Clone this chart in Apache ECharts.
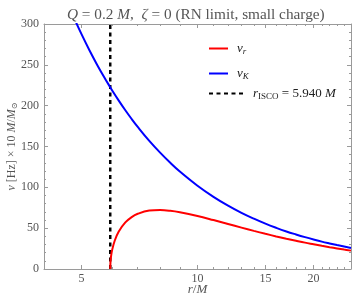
<!DOCTYPE html>
<html>
<head>
<meta charset="utf-8">
<script src="https://cdn.jsdelivr.net/npm/echarts@6/dist/echarts.min.js"></script>
<style>html,body{margin:0;padding:0;background:#fff}#c{width:353px;height:305px}</style>
</head>
<body>
<div id="c"></div>
<script>
// Keplerian frequency nu_K (radius r/M, value in Hz x 10 M/Msun)
var rK  = [4.8, 5, 5.25, 5.5, 5.75, 5.94, 6, 6.25, 6.5, 6.75, 7, 7.5, 8, 8.5, 9, 10, 11, 12, 13, 14, 15, 16, 17, 18, 19, 20, 21, 22, 23, 24, 25];
var nuK = [306.0, 287.9, 267.6, 249.6, 233.6, 222.5, 219.1, 206.2, 194.4, 183.7, 174.0, 156.9, 142.5, 130.1, 119.4, 102.0, 88.4, 77.6, 68.8, 61.6, 55.5, 50.4, 46.0, 42.3, 39.0, 36.1, 33.5, 31.3, 29.3, 27.5, 25.8];
// Radial epicyclic frequency nu_r
var rR  = [5.94, 5.95, 5.97, 6, 6.1, 6.25, 6.5, 6.75, 7, 7.5, 8, 8.5, 9, 10, 11, 12, 13, 14, 15, 16, 17, 18, 19, 20, 21, 22, 23, 24, 25];
var nuR = [0, 9.3, 15.7, 22.0, 34.6, 45.9, 57.0, 63.6, 67.6, 71.5, 72.2, 71.3, 69.5, 64.9, 59.9, 55.1, 50.7, 46.7, 43.1, 39.9, 37.1, 34.6, 32.3, 30.3, 28.4, 26.7, 25.2, 23.8, 22.5];
// ISCO radius
var rISCO = 5.94;
var iscoY = [0, 300];
// tick positions
var xMajor = [5, 10, 15, 20];
var xMinor = [6, 7, 8, 9, 11, 12, 13, 14, 16, 17, 18, 19, 21, 22, 23, 24];

function pairs(xs, ys) { return xs.map(function (x, i) { return [x, ys[i]]; }); }

var FONT = '"Liberation Serif", "DejaVu Serif", serif';
var GRAY = '#555';
var AX = '#9a9a9a';
var rich = {
  i: { fontStyle: 'italic', fontFamily: FONT, fontSize: 13, color: '#222', lineHeight: 16 },
  n: { fontFamily: FONT, fontSize: 13, color: '#222', lineHeight: 16 },
  s: { fontFamily: FONT, fontSize: 9, color: '#222', verticalAlign: 'bottom', lineHeight: 11 },
  si: { fontFamily: FONT, fontSize: 9, fontStyle: 'italic', color: '#222', verticalAlign: 'bottom', lineHeight: 11 }
};

function xAxisDef(pos, vals, len, labels, line) {
  return {
    type: 'log', logBase: 10, min: 4, max: 25, position: pos, gridIndex: 0,
    axisLine: { show: line, lineStyle: { color: AX, width: 1 } },
    axisTick: { show: true, inside: true, length: len, customValues: vals, lineStyle: { color: AX } },
    axisLabel: labels ? { show: true, customValues: vals, margin: 4, color: GRAY, fontFamily: FONT, fontSize: 12 } : { show: false },
    splitLine: { show: false }, minorTick: { show: false }
  };
}

var chart = echarts.init(document.getElementById('c'), null, { renderer: 'canvas' });
chart.setOption({
  animation: false,
  backgroundColor: '#fff',
  title: {
    text: '{i|Q} = 0.2 {i|M},  {i|ζ} = 0 (RN limit, small charge)',
    left: 62, top: 2,
    textStyle: {
      fontFamily: FONT, fontSize: 15.3, fontWeight: 'normal', color: GRAY,
      rich: { i: { fontFamily: FONT, fontSize: 15.3, fontStyle: 'italic', color: GRAY } }
    }
  },
  grid: { left: 44, right: 2, top: 24, bottom: 36, containLabel: false, outerBoundsMode: 'none' },
  legend: [
    { data: ['nu_r'], left: 203, top: 37, itemWidth: 19 },
    { data: ['nu_K'], left: 203, top: 62, itemWidth: 19 },
    { data: ['isco'], left: 203, top: 82, itemWidth: 35 }
  ].map(function (l) {
    return Object.assign(l, {
      orient: 'vertical', itemHeight: 10, itemGap: 0,
      itemStyle: { opacity: 0 },
      formatter: function (name) {
        if (name === 'nu_r') return '{i|ν}{si|r}';
        if (name === 'nu_K') return '{i|ν}{si|K}';
        return '{i|r}{s|ISCO}{n| = 5.940 }{i|M}';
      },
      textStyle: { rich: rich, padding: [0, 0, 0, 4] }
    });
  }),
  xAxis: [
    Object.assign(xAxisDef('bottom', xMajor, 4, true, true), {
      name: '{i|r}{n|/}{i|M}', nameLocation: 'middle', nameGap: 14, nameMoveOverlap: false,
      nameTextStyle: { rich: {
        i: { fontFamily: FONT, fontSize: 13, fontStyle: 'italic', color: GRAY },
        n: { fontFamily: FONT, fontSize: 13, color: GRAY } } }
    }),
    xAxisDef('bottom', xMinor, 2, false, false),
    xAxisDef('top', xMajor, 4, false, true),
    xAxisDef('top', xMinor, 2, false, false)
  ],
  yAxis: [
    {
      type: 'value', min: 0, max: 300, interval: 50, position: 'left',
      axisLine: { show: true, lineStyle: { color: AX } },
      axisTick: { show: true, inside: true, length: 4, lineStyle: { color: AX } },
      minorTick: { show: true, splitNumber: 5, length: 2, lineStyle: { color: AX } },
      axisLabel: { margin: 5, color: GRAY, fontFamily: FONT, fontSize: 12 },
      splitLine: { show: false },
      name: '{i|ν} [Hz] × 10 {i|M}/{i|M}{s|⊙}', nameLocation: 'middle', nameGap: 25, nameRotate: 90,
      nameMoveOverlap: false,
      nameTextStyle: { rich: {
        i: { fontFamily: FONT, fontSize: 12, fontStyle: 'italic', color: GRAY, lineHeight: 14 },
        s: { fontFamily: FONT, fontSize: 8, color: GRAY, verticalAlign: 'bottom', lineHeight: 10 } },
        fontFamily: FONT, fontSize: 12, color: GRAY, lineHeight: 14 }
    },
    {
      type: 'value', min: 0, max: 300, interval: 50, position: 'right',
      axisLine: { show: true, lineStyle: { color: AX } },
      axisTick: { show: true, inside: true, length: 4, lineStyle: { color: AX } },
      minorTick: { show: true, splitNumber: 5, length: 2, lineStyle: { color: AX } },
      axisLabel: { show: false }, splitLine: { show: false }
    }
  ],
  series: [
    {
      name: 'nu_r', type: 'line', xAxisIndex: 0, yAxisIndex: 0, data: pairs(rR, nuR),
      showSymbol: false, symbol: 'none', smooth: 0.4, clip: true,
      lineStyle: { color: '#ff0000', width: 2 }, itemStyle: { color: '#ff0000' }, z: 3
    },
    {
      name: 'nu_K', type: 'line', xAxisIndex: 0, yAxisIndex: 0, data: pairs(rK, nuK),
      showSymbol: false, symbol: 'none', smooth: 0.4, clip: true,
      lineStyle: { color: '#0000ff', width: 2 }, itemStyle: { color: '#0000ff' }, z: 4
    },
    {
      name: 'isco', type: 'line', xAxisIndex: 0, yAxisIndex: 0,
      data: iscoY.map(function (y) { return [rISCO, y]; }),
      showSymbol: false, symbol: 'none',
      lineStyle: { color: '#000', width: 2.5, type: [4, 3.5] }, itemStyle: { color: '#000' }, z: 2
    }
  ]
});
</script>
</body>
</html>
